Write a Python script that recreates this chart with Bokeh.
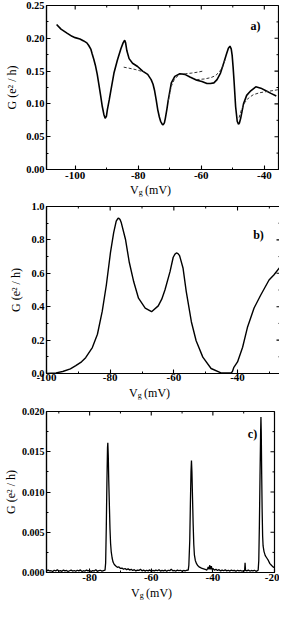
from bokeh.plotting import figure
from bokeh.models import (LinearAxis, FixedTicker, Range1d, Label, PrintfTickFormatter, Div)
from bokeh.layouts import column
from bokeh.embed import file_html
from bokeh.resources import INLINE

FONT = "Liberation Serif"

# ---------------- Panel a data ----------------
vg_a = [-105.9, -104.5, -102.6, -101.0, -100.0, -98.5, -97.3, -96.3, -95.7, -95.0,
        -94.6, -94.1, -93.6, -93.0, -92.5, -91.9, -91.4, -90.9, -90.5, -90.1,
        -89.8, -89.2, -88.7, -87.7, -86.6, -85.5, -84.8, -84.3, -84.0, -83.6,
        -82.9, -81.8, -80.2, -78.6, -77.0, -75.9, -75.3, -74.8, -74.3, -73.8,
        -73.3, -72.9, -72.4, -72.1, -71.7, -71.4, -70.9, -70.5, -69.5, -68.4,
        -66.8, -65.2, -63.6, -61.4, -59.8, -58.2, -57.1, -56.0, -55.0, -53.9,
        -52.9, -52.0, -51.4, -50.9, -50.5, -50.2, -49.9, -49.6, -49.1, -48.6,
        -48.2, -47.9, -47.5, -46.6, -45.6, -44.3, -42.7, -41.1, -39.5, -37.9, -36.2]
g_a = [0.221, 0.214, 0.208, 0.203, 0.201, 0.199, 0.196, 0.193, 0.189, 0.183,
       0.176, 0.168, 0.159, 0.145, 0.130, 0.112, 0.096, 0.084, 0.078, 0.081,
       0.091, 0.106, 0.120, 0.147, 0.167, 0.184, 0.193, 0.197, 0.193, 0.181,
       0.169, 0.162, 0.157, 0.150, 0.145, 0.137, 0.130, 0.120, 0.106, 0.091,
       0.080, 0.0735, 0.069, 0.068, 0.071, 0.078, 0.092, 0.105, 0.132, 0.142,
       0.146, 0.145, 0.141, 0.136, 0.134, 0.131, 0.131, 0.132, 0.137, 0.147,
       0.162, 0.176, 0.185, 0.188, 0.184, 0.174, 0.156, 0.135, 0.0956, 0.0735,
       0.069, 0.071, 0.078, 0.100, 0.113, 0.120, 0.126, 0.124, 0.120, 0.116, 0.112]

fit1_x = [-84.6, -83.0, -81.0, -79.5, -78.2]
fit1_y = [0.156, 0.1545, 0.1525, 0.1505, 0.149]
fit2_x = [-70.5, -69.5, -68.5, -67.0, -65.0, -63.0, -61.0, -59.5]
fit2_y = [0.104, 0.127, 0.138, 0.1445, 0.146, 0.147, 0.1485, 0.150]
fit3_x = [-61.5, -59.0, -57.0, -55.5, -54.2, -53.2, -52.4]
fit3_y = [0.137, 0.138, 0.140, 0.143, 0.149, 0.157, 0.168]
fit4_x = [-48.0, -47.2, -46.2, -45.0, -43.5, -41.5, -39.0, -37.0, -35.2]
fit4_y = [0.079, 0.092, 0.102, 0.109, 0.114, 0.117, 0.119, 0.1205, 0.122]

xt_major_a = [-100, -80, -60, -40]
xt_minor_a = [-90, -70, -50]
yt_major_a = [0.0, 0.05, 0.10, 0.15, 0.20, 0.25]
yt_minor_a = [0.025, 0.075, 0.125, 0.175, 0.225]

# ---------------- Panel b data ----------------
vg_b = [-100.0, -97.0, -94.9, -92.5, -90.8, -89.0, -87.7, -85.6, -84.0, -82.5,
        -81.2, -79.9, -78.9, -78.1, -77.6, -77.3, -76.9, -76.5, -75.2, -74.0,
        -72.6, -71.1, -69.0, -67.0, -64.9, -63.8, -62.8, -61.2, -60.2, -59.6,
        -59.2, -58.7, -58.2, -57.1, -56.1, -54.5, -53.0, -50.9, -48.3, -45.2,
        -41.9, -41.6, -41.2, -40.0, -38.4, -36.9, -34.8, -32.7, -30.1, -28.6, -26.5]
g_b = [0.0, 0.004, 0.012, 0.028, 0.047, 0.070, 0.095, 0.155, 0.235, 0.372,
       0.530, 0.725, 0.843, 0.912, 0.928, 0.930, 0.922, 0.902, 0.804, 0.666,
       0.549, 0.451, 0.392, 0.370, 0.405, 0.445, 0.500, 0.610, 0.696, 0.716,
       0.722, 0.718, 0.706, 0.630, 0.490, 0.310, 0.196, 0.098, 0.030, 0.004,
       0.003, 0.012, 0.035, 0.069, 0.157, 0.275, 0.392, 0.470, 0.560, 0.590, 0.640]

xt_major_b = [-100, -80, -60, -40]
xt_minor_b = [-90, -70, -50, -30]
yt_major_b = [0.0, 0.2, 0.4, 0.6, 0.8, 1.0]
yt_minor_b = [0.1, 0.3, 0.5, 0.7, 0.9]

# ---------------- Panel c data ----------------
vg_c = [-95.0, -94.5, -94.0, -93.5, -93.0, -92.5, -92.0, -91.5, -91.0, -90.5,
        -90.0, -89.5, -89.0, -88.5, -88.0, -87.5, -87.0, -86.5, -86.0, -85.5,
        -85.0, -84.5, -84.0, -83.5, -83.0, -82.5, -82.0, -81.5, -81.0, -80.5,
        -80.0, -79.5, -79.0, -78.5, -78.0, -77.5, -77.0, -76.5, -76.0, -75.5,
        -75.0, -74.8, -74.6, -74.4, -74.2, -74.1, -73.95, -73.8, -73.6, -73.4,
        -73.2, -73.0, -72.7, -72.4, -72.0, -71.5, -71.0, -70.5, -70.0, -69.5,
        -69.0, -68.5, -68.0, -67.5, -67.0, -66.5, -66.0,
        -65.5, -65.0, -64.5, -64.0, -63.5, -63.0, -62.5, -62.0, -61.5, -61.0,
        -60.5, -60.0, -59.5, -59.0, -58.5, -58.0, -57.5, -57.0, -56.5, -56.0,
        -55.5, -55.0, -54.5, -54.0, -53.5, -53.0, -52.5, -52.0, -51.5, -51.0,
        -50.5, -50.0, -49.5, -49.0, -48.5,
        -48.0, -47.8, -47.5, -47.3, -47.1, -46.95, -46.8, -46.6, -46.4, -46.2,
        -46.0, -45.7, -45.3, -45.0, -44.5, -44.0, -43.5, -43.0,
        -42.5, -42.0, -41.7, -41.5, -41.3, -41.0, -40.8, -40.5, -40.2, -40.0,
        -39.5, -39.0, -38.5, -38.0, -37.5, -37.0, -36.5, -36.0, -35.5, -35.0,
        -34.5, -34.0, -33.5, -33.0, -32.5, -32.0, -31.5, -31.0, -30.5, -30.0,
        -29.7, -29.55, -29.4, -29.0, -28.5, -28.0, -27.5, -27.0, -26.5, -26.0, -25.5,
        -25.3, -25.1, -24.9, -24.7, -24.5, -24.4, -24.3, -24.15, -24.0, -23.85,
        -23.7, -23.4, -23.0, -22.5, -22.0, -21.5, -21.0, -20.5, -20.0]
g_c = [0.00015, 0.00025, 0.00018, 0.0003, 0.0002, 0.00022, 0.00012, 0.00028, 0.0002, 0.00035,
       0.00018, 0.00024, 0.00015, 0.0003, 0.0002, 0.00026, 0.00012, 0.00022, 0.0003, 0.00018,
       0.00025, 0.00015, 0.00028, 0.0002, 0.00032, 0.00014, 0.00022, 0.00018, 0.0003, 0.0002,
       0.00026, 0.00012, 0.00024, 0.0002, 0.00035, 0.00015, 0.00022, 0.00028, 0.00018, 0.00024,
       0.0003, 0.0012, 0.0055, 0.011, 0.0155, 0.0161, 0.0145, 0.0115, 0.0085, 0.0055,
       0.0036, 0.0026, 0.0018, 0.0013, 0.0010, 0.0008, 0.00065, 0.0007, 0.0005, 0.00055,
       0.0004, 0.0005, 0.00035, 0.00045, 0.0003, 0.0004, 0.00025,
       0.00035, 0.0002, 0.0003, 0.00025, 0.0004, 0.0002, 0.0003, 0.00018, 0.00028, 0.0002,
       0.00032, 0.00015, 0.00025, 0.0002, 0.0003, 0.00022, 0.00035, 0.00018, 0.00026, 0.0002,
       0.0003, 0.00015, 0.00028, 0.00022, 0.0004, 0.0002, 0.00025, 0.00018, 0.0003, 0.00022,
       0.00028, 0.00015, 0.00025, 0.0002, 0.00028,
       0.0003, 0.0009, 0.004, 0.0085, 0.0125, 0.0139, 0.0125, 0.0092, 0.006, 0.0035,
       0.0022, 0.0015, 0.0011, 0.0009, 0.0007, 0.0006, 0.0005, 0.00045,
       0.0004, 0.0003, 0.0005, 0.0007, 0.0004, 0.0009, 0.0004, 0.0008, 0.0003, 0.0005,
       0.0003, 0.0004, 0.00025, 0.00035, 0.0002, 0.0003, 0.00022, 0.00032, 0.0002, 0.00028,
       0.00018, 0.0003, 0.00022, 0.00026, 0.00015, 0.00028, 0.0002, 0.00025, 0.00018, 0.00022,
       0.0002, 0.0012, 0.00025, 0.0002, 0.0003, 0.00018, 0.00025, 0.0002, 0.00028, 0.00015, 0.00022,
       0.0003, 0.0015, 0.006, 0.012, 0.0175, 0.0193, 0.0175, 0.012, 0.0075, 0.0045,
       0.0033, 0.0026, 0.0021, 0.0018, 0.0015, 0.0011, 0.0009, 0.0007, 0.0006]

xt_major_c = [-80, -60, -40, -20]
xt_minor_c = [-90, -70, -50, -30]
yt_major_c = [0.0, 0.005, 0.010, 0.015, 0.020]
yt_minor_c = [0.0025, 0.0075, 0.0125, 0.0175]

Y_LABEL = "G (e² / h)"
MAJ_LEN = 4
MIN_LEN = 2


def style_axis(ax, fs, standoff):
    ax.axis_line_color = "black"
    ax.axis_line_width = 1.2
    ax.major_tick_line_color = "black"
    ax.major_tick_line_width = 1.1
    ax.minor_tick_line_color = "black"
    ax.minor_tick_line_width = 1.0
    ax.major_tick_in = MAJ_LEN
    ax.major_tick_out = 0
    ax.minor_tick_in = MIN_LEN
    ax.minor_tick_out = 0
    ax.major_label_text_font = FONT
    ax.major_label_text_font_style = "bold"
    ax.major_label_text_font_size = fs
    ax.major_label_text_color = "black"
    ax.major_label_standoff = standoff


def make_panel(fw, fh, xr, yr, xmaj, xmin, ymaj, ymin, yfmt, bl, br, bt, bb,
               ylab_stand, yfs, tag, tag_x, tag_y, xstand):
    p = figure(frame_width=fw, frame_height=fh, x_range=Range1d(*xr), y_range=Range1d(*yr),
               x_axis_type=None, y_axis_type=None, output_backend="svg",
               toolbar_location=None, min_border_left=bl, min_border_right=br,
               min_border_top=bt, min_border_bottom=bb)
    p.outline_line_color = "black"
    p.outline_line_width = 1.2
    xb = LinearAxis(ticker=FixedTicker(ticks=xmaj, minor_ticks=xmin),
                    formatter=PrintfTickFormatter(format="%d"))
    style_axis(xb, "11px", xstand)
    p.add_layout(xb, "below")
    yl = LinearAxis(ticker=FixedTicker(ticks=ymaj, minor_ticks=ymin),
                    formatter=PrintfTickFormatter(format=yfmt), axis_label=Y_LABEL)
    style_axis(yl, yfs, 2)
    yl.axis_label_text_font = FONT
    yl.axis_label_text_font_size = "12px"
    yl.axis_label_text_font_style = "normal"
    yl.axis_label_text_color = "black"
    yl.axis_label_standoff = ylab_stand
    p.add_layout(yl, "left")

    # mirrored ticks on the top and right edges of the frame
    dx = (xr[1] - xr[0]) / fw
    dy = (yr[1] - yr[0]) / fh
    xin = [v for v in xmaj if xr[0] <= v <= xr[1]]
    xmi = [v for v in xmin if xr[0] <= v <= xr[1]]
    p.segment(x0=xin, x1=xin, y0=[yr[1]] * len(xin), y1=[yr[1] - MAJ_LEN * dy] * len(xin),
              line_color="black", line_width=1.1)
    p.segment(x0=xmi, x1=xmi, y0=[yr[1]] * len(xmi), y1=[yr[1] - MIN_LEN * dy] * len(xmi),
              line_color="black", line_width=1.0)
    p.segment(x0=[xr[1]] * len(ymaj), x1=[xr[1] - MAJ_LEN * dx] * len(ymaj), y0=ymaj, y1=ymaj,
              line_color="black", line_width=1.1)
    p.segment(x0=[xr[1]] * len(ymin), x1=[xr[1] - MIN_LEN * dx] * len(ymin), y0=ymin, y1=ymin,
              line_color="black", line_width=1.0)

    p.add_layout(Label(x=tag_x, y=tag_y, x_units="screen", y_units="screen",
                       text=tag, text_align="center", text_baseline="middle",
                       text_font=FONT, text_font_size="12px", text_font_style="bold",
                       text_color="black"))
    return p


def xlabel_div(left, width):
    html = ('<div style="position:relative;top:-2px;padding-left:%dpx;'
            'font-family:\'Liberation Serif\',serif;'
            'font-size:12px;line-height:10px;white-space:nowrap;color:black;">'
            'V<span style="font-size:8px;position:relative;top:1px;">g</span>'
            '&thinsp;(mV)</div>' % left)
    return Div(text=html, width=width, height=12, margin=(0, 0, 0, 0))


pa = make_panel(232, 164, (-109.1, -35.5), (0, 0.25), xt_major_a, xt_minor_a,
                yt_major_a, yt_minor_a, "%.2f", 39, 3, 5, 15, 4, "10.5px",
                "a)", 209, 144, 2)
pa.line(vg_a, g_a, line_color="black", line_width=1.6)
for fx, fy in [(fit1_x, fit1_y), (fit2_x, fit2_y), (fit3_x, fit3_y), (fit4_x, fit4_y)]:
    pa.line(fx, fy, line_color="#333333", line_width=1.0, line_dash="3 2")

pb = make_panel(234, 167, (-100, -26.5), (0, 1.0), xt_major_b, xt_minor_b,
                yt_major_b, yt_minor_b, "%.1f", 35, 5, 10, 14, 5, "10.5px",
                "b)", 212, 139, 0)
pb.line(vg_b, g_b, line_color="black", line_width=1.4)

pc = make_panel(228, 161, (-94.0, -20), (0, 0.020), xt_major_c, xt_minor_c,
                yt_major_c, yt_minor_c, "%.3f", 41, 5, 12, 15, 1, "10px",
                "c)", 206, 139, 1)
pc.line(vg_c, g_c, line_color="black", line_width=1.3)

layout = column(pa, xlabel_div(130, 274), pb, xlabel_div(129, 274), pc, xlabel_div(131, 274),
                spacing=0)
open("out.html", "w").write(file_html(layout, INLINE))
